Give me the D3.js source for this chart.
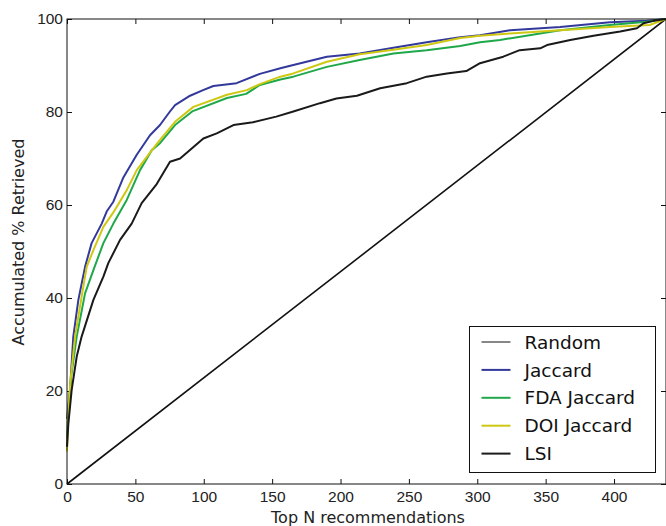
<!DOCTYPE html>
<html>
<head>
<meta charset="utf-8">
<script src="https://cdn.jsdelivr.net/npm/d3@7"></script>
<style>
  body { margin: 0; background: #fff; }
  svg { display: block; font-family: "DejaVu Sans", sans-serif; }
</style>
</head>
<body>
<div id="chart"></div>
<script>
const width = 666, height = 526;
const margin = {top: 19, right: 0, bottom: 42, left: 67};
const innerWidth = width - margin.left - margin.right,
      innerHeight = height - margin.top - margin.bottom;

// [N, % retrieved]
const random = [[0, 0], [438, 100]];
const jaccard = [[0,14],[1,17],[2.2,20.2],[4.6,31.7],[8.3,39.6],[13.2,46.7],[18,51.8],[25.4,56],[29,58.6],[33.9,60.7],[41,65.8],[51,70.8],[60.7,75],[68,77.2],[75,80],[79,81.5],[90,83.5],[99.5,84.7],[107,85.6],[124,86.2],[141,88.2],[156,89.4],[165.5,90.1],[190,91.9],[214,92.6],[238.7,93.8],[263,95],[287.5,96.1],[302,96.5],[324,97.6],[360.6,98.3],[397,99.3],[424,99.6],[438,100]];
const fdaJaccard = [[0,10],[1,16],[3,23],[7.1,31.7],[13.2,41],[19.3,46],[26.6,51.8],[33.9,56],[43.7,61.1],[53.4,67.5],[62,71.8],[68,73.3],[79,77.2],[92,80.2],[117,83],[131,83.9],[141,85.8],[156,87],[165.5,87.6],[190,89.7],[214,91.2],[238.7,92.6],[263,93.3],[287.5,94.2],[302,95],[316.7,95.5],[360.6,97.6],[397,98.7],[424,99.4],[438,100]];
const doiJaccard = [[0,7],[1,15],[2.5,22],[5.9,31.7],[10.7,40.3],[14.4,46.7],[19.3,50.3],[26.6,55.3],[33.9,58.4],[43.7,63.2],[51,67.5],[60,71],[68,74],[79,77.9],[92.4,81.1],[117,83.7],[131.5,84.7],[141,86],[156,87.6],[165.5,88.3],[190,90.8],[214,92.4],[238.7,93.4],[263,94.4],[287.5,95.9],[302,96.4],[324,96.9],[360.6,97.6],[397,98.3],[426,98.7],[438,100]];
const lsi = [[0,8],[1,13],[3.4,20.2],[7.1,27.4],[10.7,31.7],[19.3,39.6],[26.6,44.6],[30.2,47.5],[38.8,52.5],[47.3,56],[54.6,60.4],[65.6,64.5],[75.3,69.3],[82.7,70],[99.7,74.3],[109.5,75.4],[121.7,77.2],[136,77.8],[153,79],[165.5,80.1],[185,81.9],[197,82.9],[212,83.5],[229,85.1],[248.5,86.2],[263,87.6],[277.8,88.3],[292,88.8],[302,90.5],[319,91.9],[331,93.3],[346,93.7],[351,94.4],[368,95.5],[385,96.4],[404.5,97.3],[416.7,98],[421.6,99.1],[429,99.6],[438,100]];

const seriesNames = ["Random", "Jaccard", "FDA Jaccard", "DOI Jaccard", "LSI"];
const seriesData = [random, jaccard, fdaJaccard, doiJaccard, lsi];
const seriesColors = ["#111111", "#33399b", "#1fa84a", "#cfc812", "#1a1a1a"];
const seriesWidths = [1.6, 2, 2, 2, 2];
const legendWidths = [1, 2, 2, 2, 2];

const xTicks = [0, 50, 100, 150, 200, 250, 300, 350, 400];
const yTicks = [0, 20, 40, 60, 80, 100];

const svg = d3.select("#chart")
  .append("svg")
  .attr("width", width)
  .attr("height", height)
  .append("g")
  .attr("transform", `translate(${margin.left}, ${margin.top})`);

const x = d3.scaleLinear().domain([0, 438]).range([0, innerWidth]);
const y = d3.scaleLinear().domain([0, 100]).range([innerHeight, 0]);

// axes with inward ticks on all four sides
const styleAxis = g => {
  g.select(".domain").remove();
  g.selectAll("line").attr("stroke", "#111");
  g.selectAll("text").attr("fill", "#222").style("font-size", "15.5px");
};

svg.append("g")
  .attr("transform", `translate(0, ${innerHeight})`)
  .call(d3.axisBottom(x).tickValues(xTicks).tickSizeInner(-5).tickSizeOuter(0).tickPadding(7))
  .call(styleAxis);
svg.append("g")
  .call(d3.axisTop(x).tickValues(xTicks).tickSizeInner(-5).tickSizeOuter(0).tickFormat(""))
  .call(styleAxis);
svg.append("g")
  .call(d3.axisLeft(y).tickValues(yTicks).tickSizeInner(-5).tickSizeOuter(0).tickPadding(4))
  .call(styleAxis);
svg.append("g")
  .attr("transform", `translate(${innerWidth}, 0)`)
  .call(d3.axisRight(y).tickValues(yTicks).tickSizeInner(-5).tickSizeOuter(0).tickFormat(""))
  .call(styleAxis);

const line = d3.line()
  .x(d => x(d[0]))
  .y(d => y(d[1]));

svg.append("g")
  .selectAll("path")
  .data(seriesData)
  .enter().append("path")
  .attr("d", line)
  .attr("fill", "none")
  .attr("stroke", (d, i) => seriesColors[i])
  .attr("stroke-width", (d, i) => seriesWidths[i])
  .attr("stroke-linejoin", "round");

svg.append("rect")
  .attr("x", 0)
  .attr("y", 0)
  .attr("width", innerWidth)
  .attr("height", innerHeight)
  .attr("fill", "none")
  .attr("stroke", "#111")
  .attr("stroke-width", 1);

// axis titles
svg.append("text")
  .attr("x", 301)
  .attr("y", innerHeight + 39)
  .style("text-anchor", "middle")
  .style("font-size", "16px")
  .attr("fill", "#222")
  .text("Top N recommendations");

svg.append("text")
  .attr("transform", "rotate(-90)")
  .attr("x", -(242 - margin.top))
  .attr("y", -43)
  .style("text-anchor", "middle")
  .style("font-size", "16px")
  .attr("fill", "#222")
  .text("Accumulated % Retrieved");

// legend
const legend = svg.append("g")
  .attr("transform", `translate(${469.5 - margin.left}, ${326.5 - margin.top})`);
legend.append("rect")
  .attr("width", 186)
  .attr("height", 146)
  .attr("fill", "#fff")
  .attr("stroke", "#111")
  .attr("stroke-width", 1);

const legendItems = legend.selectAll(".item")
  .data(seriesNames)
  .enter().append("g")
  .attr("class", "item")
  .attr("transform", (d, i) => `translate(0, ${15.5 + i * 27.9})`);

legendItems.append("line")
  .attr("x1", 12)
  .attr("x2", 41)
  .attr("stroke", (d, i) => seriesColors[i])
  .attr("stroke-width", (d, i) => legendWidths[i]);

legendItems.append("text")
  .attr("x", 55)
  .attr("dy", "0.36em")
  .style("font-size", "18.5px")
  .attr("fill", "#111")
  .text(d => d);
</script>
</body>
</html>
